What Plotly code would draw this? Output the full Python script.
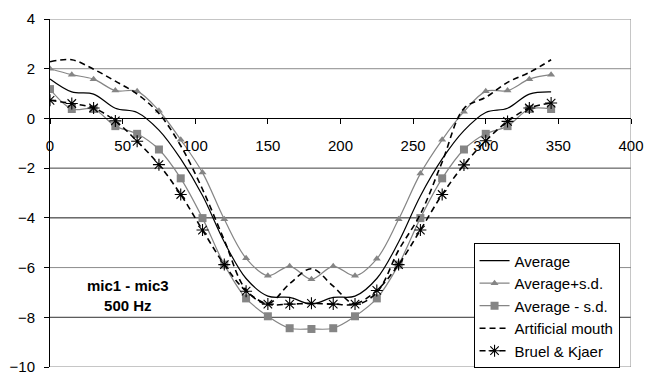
import plotly.graph_objects as go

# Angle (degrees) and level differences mic1 - mic3 at 500 Hz
angles = [0, 15, 30, 45, 60, 75, 90, 105, 120, 135, 150, 165,
          180, 195, 210, 225, 240, 255, 270, 285, 300, 315, 330, 345]

average = [1.59, 1.07, 0.98, 0.41, 0.24, -0.47, -1.63, -3.10, -4.97, -6.44, -7.15, -7.20,
           -7.47, -7.20, -7.15, -6.44, -4.97, -3.12, -1.63, -0.49, 0.24, 0.41, 0.98, 1.07]

avg_plus_sd = [2.00, 1.76, 1.58, 1.12, 1.09, 0.31, -0.86, -2.18, -4.06, -5.63, -6.33, -5.95,
               -6.47, -5.95, -6.33, -5.65, -4.06, -2.22, -0.86, 0.27, 1.09, 1.12, 1.58, 1.76]

avg_minus_sd = [1.18, 0.38, 0.38, -0.31, -0.62, -1.25, -2.41, -4.01, -5.88, -7.24, -7.96, -8.44,
                -8.47, -8.44, -7.96, -7.24, -5.88, -4.01, -2.41, -1.25, -0.62, -0.31, 0.38, 0.38]

artificial_mouth = [2.28, 2.36, 1.98, 1.50, 0.98, 0.20, -1.10, -2.85, -4.90, -6.90, -7.45, -6.65,
                    -6.05, -6.75, -7.47, -7.00, -5.30, -3.85, -1.75, 0.40, 0.85, 1.45, 1.85, 2.36]

bruel_kjaer = [0.73, 0.60, 0.42, -0.10, -0.92, -1.86, -3.06, -4.49, -5.88, -6.95, -7.47, -7.47,
               -7.44, -7.47, -7.47, -6.92, -5.88, -4.49, -3.06, -1.87, -0.90, -0.12, 0.42, 0.62]

# Horizontal reference levels and the stroke colour of each
grid_levels = [4, 2, -2, -4, -6, -8, -10]
grid_colors = ["#8c8c8c", "#8c8c8c", "#404040", "#1a1a1a", "#8c8c8c", "#303030", "#8c8c8c"]

GRAY = "#858585"
FONT = "Liberation Sans, Arial, sans-serif"

fig = go.Figure()

fig.add_trace(go.Scatter(
    x=angles, y=average, name="Average", mode="lines",
    line=dict(color="black", width=1.2, shape="spline", smoothing=1.0)))

fig.add_trace(go.Scatter(
    x=angles, y=avg_plus_sd, name="Average+s.d.", mode="lines+markers",
    line=dict(color=GRAY, width=1.2, shape="spline", smoothing=1.0),
    marker=dict(symbol="triangle-up", size=7, color=GRAY)))

fig.add_trace(go.Scatter(
    x=angles, y=avg_minus_sd, name="Average - s.d.", mode="lines+markers",
    line=dict(color=GRAY, width=1.2, shape="spline", smoothing=1.0),
    marker=dict(symbol="square", size=8, color=GRAY)))

fig.add_trace(go.Scatter(
    x=angles, y=artificial_mouth, name="Artificial mouth", mode="lines",
    line=dict(color="black", width=1.6, dash="6px,4px", shape="spline", smoothing=1.0)))

fig.add_trace(go.Scatter(
    x=angles, y=bruel_kjaer, name="Bruel & Kjaer", mode="lines+markers",
    line=dict(color="black", width=1.6, dash="6px,4px", shape="spline", smoothing=1.0),
    marker=dict(symbol="asterisk-open", size=10, color="black",
                line=dict(color="black", width=1.1))))

shapes = []
for lvl, col in zip(grid_levels, grid_colors):
    shapes.append(dict(type="line", xref="x", yref="y", x0=0, x1=400, y0=lvl, y1=lvl,
                       line=dict(color=col, width=1), layer="below"))
# right-hand frame edge
shapes.append(dict(type="line", xref="x", yref="y", x0=400, x1=400, y0=-10, y1=4,
                   line=dict(color="#8c8c8c", width=1), layer="below"))

fig.update_layout(
    width=654, height=385,
    margin=dict(l=50, r=14, t=15, b=10),
    paper_bgcolor="white", plot_bgcolor="white",
    font=dict(family=FONT, size=15, color="black"),
    shapes=shapes,
    showlegend=True,
    legend=dict(
        x=0.729, y=0.355, xanchor="left", yanchor="top",
        bgcolor="white", bordercolor="black", borderwidth=1,
        font=dict(family=FONT, size=15, color="black"),
        itemwidth=30, tracegroupgap=0),
    xaxis=dict(
        range=[0, 400], dtick=50, tick0=0,
        showgrid=False, zeroline=False,
        showline=True, linecolor="black", linewidth=1,
        ticks="outside", ticklen=5, tickcolor="black",
        anchor="free", position=10 / 14, ticklabelstandoff=9,
        tickfont=dict(family=FONT, size=15)),
    yaxis=dict(
        range=[-10, 4], dtick=2, tick0=-10,
        showgrid=False, zeroline=False,
        showline=True, linecolor="black", linewidth=1,
        ticks="outside", ticklen=5, tickcolor="black",
        ticklabelstandoff=6,
        tickfont=dict(family=FONT, size=15)),
    annotations=[dict(
        x=54, y=-7.12, xref="x", yref="y",
        text="<b>mic1 - mic3</b><br><b>500 Hz</b>",
        showarrow=False, align="center",
        font=dict(family=FONT, size=15, color="black"))],
)

fig.write_html("out.html")
